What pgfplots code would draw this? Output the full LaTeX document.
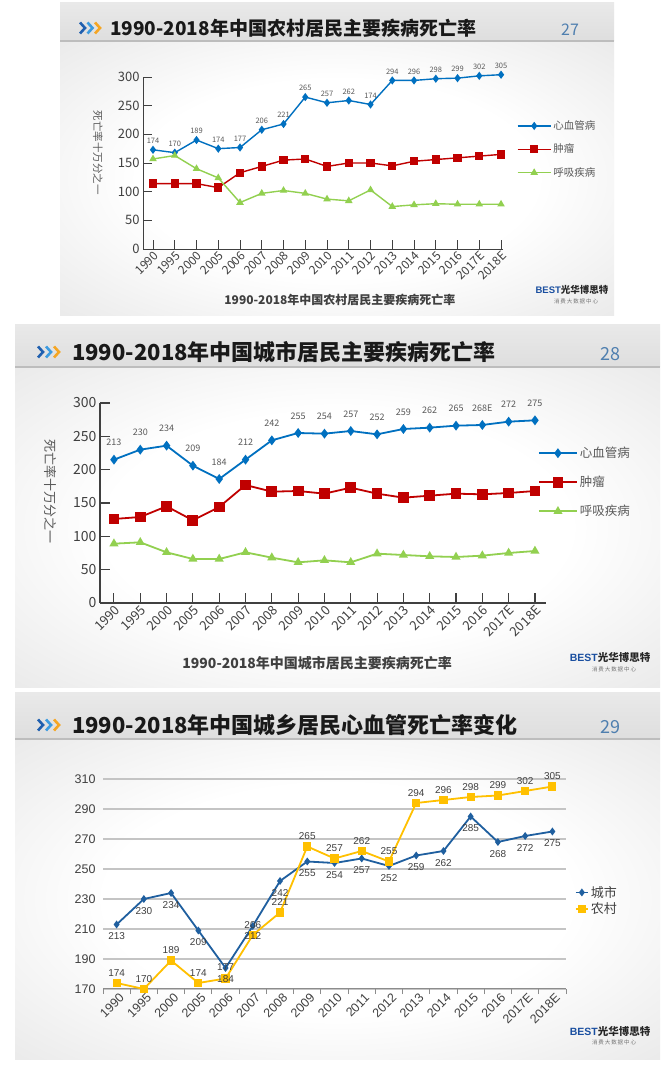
\documentclass[border=0pt]{standalone}
\usepackage{pgfplots}
\pgfplotsset{compat=1.18}
\usepackage{fontspec}
\setmainfont{Noto Sans CJK SC}
\newfontfamily\arial{Liberation Sans}
\definecolor{cvd}{HTML}{0070C0}
\definecolor{tum}{HTML}{C00000}
\definecolor{resp}{HTML}{92D050}
\definecolor{urb}{HTML}{1F5F9F}
\definecolor{rur}{HTML}{FFC000}
\definecolor{txt}{HTML}{404040}
\definecolor{lbl}{HTML}{595959}
\definecolor{pgnum}{HTML}{4F7FAF}
\definecolor{chevA}{HTML}{1F5FAF}
\definecolor{chevB}{HTML}{3C9BE0}
\definecolor{chevC}{HTML}{F5A623}
\definecolor{bgout}{HTML}{D9D9D9}
\definecolor{barTop}{HTML}{E9E9E9}
\definecolor{barBot}{HTML}{DEDEDE}
\definecolor{barline}{HTML}{BDBDBD}
\definecolor{logob}{HTML}{1A4FA0}
\definecolor{gridc}{HTML}{C4C4C4}
\pgfdeclareradialshading{slidebg}{\pgfpoint{0bp}{0bp}}{color(0bp)=(white); color(18bp)=(white); color(50bp)=(bgout); color(100bp)=(bgout)}
\newcommand{\fs}[1]{\fontsize{#1}{#1}\selectfont}
\newcommand{\chev}[3]{%
  \foreach \i/\c in {0/chevA,1/chevB,2/chevC}{%
    \draw[\c, line width=2.6pt, line cap=butt, line join=miter] ({#1pt+\i*#3pt},{#2pt+5.5pt}) -- ({#1pt+\i*#3pt+5pt},{#2pt}) -- ({#1pt+\i*#3pt},{#2pt-5.5pt});
  }}
\newcommand{\slide}[5]{%
  \fill[bgout] (#1pt,#2pt) rectangle (#3pt,#4pt);
  \shade[shading=slidebg] (#1pt,#2pt) rectangle (#3pt,#5pt);
  \shade[top color=barTop, bottom color=barBot] (#1pt,#5pt) rectangle (#3pt,#4pt);
  \draw[barline, line width=1.2pt] (#1pt,#5pt) -- (#3pt,#5pt);
}
\newcommand{\logo}[3]{%
  \node[inner sep=0pt] at (#1pt,#2pt) {{\arial\bfseries\color{logob}\fs{#3}BEST}{\bfseries\color{black!85}\fs{#3}光华博思特}};
  \node[inner sep=0pt, text=black!55] at (#1pt+4pt,#2pt-11pt) {\fs{5.5}消\,费\,大\,数\,据\,中\,心};
}
\begin{document}
\begin{tikzpicture}
\path[use as bounding box, fill=white] (0,0) rectangle (670pt,1065pt);
% ---------- slide 1 ----------
\slide{60}{749}{614}{1062}{1024}
\chev{80}{1037}{7.5}
\node[anchor=west, inner sep=0pt, text=black!90] at (110pt,1037pt) {\bfseries\fs{19}1990-2018年中国农村居民主要疾病死亡率};
\node[text=pgnum] at (570pt,1035pt) {\fs{16}27};
\logo{572}{775}{9.5}
% ---------- slide 2 ----------
\slide{15}{377}{660}{740}{698}
\chev{38}{713}{8}
\node[anchor=west, inner sep=0pt, text=black!90] at (72pt,713pt) {\bfseries\fs{22}1990-2018年中国城市居民主要疾病死亡率};
\node[text=pgnum] at (610pt,711pt) {\fs{18}28};
\logo{610}{407}{10.5}
% ---------- slide 3 ----------
\slide{15}{5}{660}{372}{326}
\chev{38}{340}{8}
\node[anchor=west, inner sep=0pt, text=black!90] at (72pt,340pt) {\bfseries\fs{22}1990-2018年中国城乡居民心血管死亡率变化};
\node[text=pgnum] at (610pt,338pt) {\fs{18}29};
\logo{610}{34}{10.5}

% ================= AXIS 1 =================
\begin{axis}[
  at={(143pt,816pt)}, anchor=south west,
  width=360pt, height=172pt, scale only axis,
  xmin=-0.46, xmax=16.09, ymin=0, ymax=300,
  axis lines=left,
  axis line style={-, draw=txt, line width=0.9pt},
  tick align=inside, major tick length=9pt,
  tick style={draw=txt, line width=0.9pt},
  xtick={0,...,16},
  xticklabels={1990,1995,2000,2005,2006,2007,2008,2009,2010,2011,2012,2013,2014,2015,2016,2017E,2018E},
  ytick={0,50,...,300},
  /pgf/number format/assume math mode=true,
  x tick label style={rotate=45, anchor=north east, font=\fs{12}, text=txt, inner sep=1pt},
  y tick label style={font=\fs{13}, text=txt},
  ylabel={死亡率十万分之一},
  ylabel style={at={(axis description cs:-0.125,0.56)}, rotate=180, anchor=center, font=\fs{10.5}, text=lbl},
  xlabel={1990-2018年中国农村居民主要疾病死亡率},
  xlabel style={at={(axis description cs:0.547,-0.297)}, anchor=center, font=\bfseries\fs{12}, text=txt},
  clip=false,
  legend style={at={(axis description cs:1.03,0.77)}, anchor=north west, draw=none, fill=none, font=\fs{10.5}, text=lbl, row sep=9pt, /tikz/every even column/.append style={column sep=9pt}},
  legend cell align=left,
  legend image code/.code={\draw[mark repeat=2,mark phase=2] plot coordinates {(0pt,0pt) (16.5pt,0pt) (33pt,0pt)};},
]
\addplot[color=cvd, line width=1.4pt, mark=diamond*, mark size=3pt, mark options={solid, fill=cvd},
  nodes near coords, point meta=explicit symbolic,
  every node near coord/.append style={anchor=center, yshift=9pt, font=\fs{7.5}, text=lbl}]
coordinates {(0,173)[174] (1,168)[170] (2,190)[189] (3,175)[174] (4,177)[177] (5,208)[206] (6,218)[221] (7,265)[265] (8,255)[257] (9,259)[262] (10,252)[174] (11,294)[294] (12,294)[296] (13,297)[298] (14,298)[299] (15,302)[302] (16,304)[305]};
\addlegendentry{心血管病}
\addplot[color=tum, line width=1.4pt, mark=square*, mark size=3.5pt, mark options={solid, fill=tum}]
coordinates {(0,114) (1,114) (2,114) (3,107) (4,133) (5,144) (6,155) (7,157) (8,144) (9,150) (10,150) (11,145) (12,153) (13,156) (14,159) (15,162) (16,165)};
\addlegendentry{肿瘤}
\addplot[color=resp, line width=1.4pt, mark=triangle*, mark size=3pt, mark options={solid, fill=resp}]
coordinates {(0,157) (1,163) (2,140) (3,124) (4,81) (5,97) (6,102) (7,97) (8,87) (9,84) (10,103) (11,74) (12,77) (13,79) (14,78) (15,78) (16,78)};
\addlegendentry{呼吸疾病}
\end{axis}

% ================= AXIS 2 =================
\begin{axis}[
  at={(100pt,462pt)}, anchor=south west,
  width=446pt, height=200pt, scale only axis,
  xmin=-0.53, xmax=16.42, ymin=0, ymax=300,
  axis lines=left,
  axis line style={-, draw=txt, line width=1.1pt},
  tick align=inside, major tick length=10pt,
  tick style={draw=txt, line width=1.1pt},
  xtick={0,...,16},
  xticklabels={1990,1995,2000,2005,2006,2007,2008,2009,2010,2011,2012,2013,2014,2015,2016,2017E,2018E},
  ytick={0,50,...,300},
  /pgf/number format/assume math mode=true,
  x tick label style={rotate=45, anchor=north east, font=\fs{13}, text=txt, inner sep=1pt},
  y tick label style={font=\fs{14}, text=txt},
  ylabel={死亡率十万分之一},
  ylabel style={at={(axis description cs:-0.112,0.555)}, rotate=180, anchor=center, font=\fs{13}, text=lbl},
  xlabel={1990-2018年中国城市居民主要疾病死亡率},
  xlabel style={at={(axis description cs:0.487,-0.3)}, anchor=center, font=\bfseries\fs{14}, text=txt},
  clip=false,
  legend style={at={(axis description cs:0.975,0.8)}, anchor=north west, draw=none, fill=none, font=\fs{12.5}, text=lbl, row sep=13pt, /tikz/every even column/.append style={column sep=12pt}},
  legend cell align=left,
  legend image code/.code={\draw[mark repeat=2,mark phase=2] plot coordinates {(0pt,0pt) (19pt,0pt) (38pt,0pt)};},
]
\addplot[color=cvd, line width=1.8pt, mark=diamond*, mark size=3.5pt, mark options={solid, fill=cvd},
  nodes near coords, point meta=explicit symbolic,
  every node near coord/.append style={anchor=center, yshift=17pt, font=\fs{9}, text=lbl}]
coordinates {(0,215)[213] (1,230)[230] (2,236)[234] (3,206)[209] (4,186)[184] (5,215)[212] (6,244)[242] (7,255)[255] (8,254)[254] (9,258)[257] (10,253)[252] (11,261)[259] (12,263)[262] (13,266)[265] (14,267)[268E] (15,272)[272] (16,274)[275]};
\addlegendentry{心血管病}
\addplot[color=tum, line width=1.8pt, mark=square*, mark size=4.5pt, mark options={solid, fill=tum}]
coordinates {(0,126) (1,129) (2,145) (3,124) (4,144) (5,177) (6,167) (7,168) (8,164) (9,173) (10,164) (11,158) (12,161) (13,164) (14,163) (15,165) (16,168)};
\addlegendentry{肿瘤}
\addplot[color=resp, line width=1.8pt, mark=triangle*, mark size=3.5pt, mark options={solid, fill=resp}]
coordinates {(0,89) (1,91) (2,76) (3,66) (4,66) (5,76) (6,68) (7,61) (8,64) (9,61) (10,74) (11,72) (12,70) (13,69) (14,71) (15,75) (16,78)};
\addlegendentry{呼吸疾病}
\end{axis}

% ================= AXIS 3 =================
\begin{axis}[
  at={(103pt,76pt)}, anchor=south west,
  width=463pt, height=210pt, scale only axis,
  xmin=-0.5, xmax=16.5, ymin=170, ymax=310,
  axis x line=bottom, axis y line=left,
  x axis line style={-, draw=black!45, line width=1pt},
  y axis line style={draw=none},
  tick align=outside, major tick length=0pt, minor tick length=5pt,
  minor xtick={-0.5,0.5,...,16.5},
  minor tick style={draw=black!45, line width=0.9pt},
  xtick={0,...,16},
  xticklabels={1990,1995,2000,2005,2006,2007,2008,2009,2010,2011,2012,2013,2014,2015,2016,2017E,2018E},
  ytick={170,190,...,310},
  ymajorgrids, grid style={draw=gridc, line width=1.3pt},
  /pgf/number format/assume math mode=true,
  x tick label style={rotate=45, anchor=north east, font=\arial\fs{12.5}, text=txt, inner sep=1pt, yshift=-3pt},
  y tick label style={font=\arial\fs{12.5}, text=txt, xshift=-4pt},
  clip=false,
  legend style={at={(axis description cs:1.019,0.5)}, anchor=north west, draw=none, fill=none, font=\fs{13}, text=txt, row sep=0pt, inner sep=0pt, /tikz/every even column/.append style={column sep=1pt}},
  legend cell align=left,
  legend image code/.code={\draw[mark repeat=2,mark phase=2] plot coordinates {(0pt,0pt) (6pt,0pt) (12pt,0pt)};},
]
\addplot[color=urb, line width=1.8pt, mark=diamond*, mark size=2.5pt, mark options={solid, fill=urb}]
coordinates {(0,213) (1,230) (2,234) (3,209) (4,184) (5,212) (6,242) (7,255) (8,254) (9,257) (10,252) (11,259) (12,262) (13,285) (14,268) (15,272) (16,275)};
\addlegendentry{城市}
\addplot[color=rur, line width=1.8pt, mark=square*, mark size=3.2pt, mark options={solid, fill=rur}]
coordinates {(0,174) (1,170) (2,189) (3,174) (4,177) (5,206) (6,221) (7,265) (8,257) (9,262) (10,255) (11,294) (12,296) (13,298) (14,299) (15,302) (16,305)};
\addlegendentry{农村}
% labels
\addplot[draw=none, mark=none, forget plot, nodes near coords, point meta=explicit symbolic,
  every node near coord/.append style={anchor=center, yshift=-12pt, font=\arial\fs{10}, text=txt}]
coordinates {(0,213)[213] (1,230)[230] (2,234)[234] (3,209)[209] (6,242)[242] (7,255)[255] (8,254)[254] (9,257)[257] (10,252)[252] (11,259)[259] (12,262)[262] (13,285)[285] (14,268)[268] (15,272)[272] (16,275)[275]};
\addplot[draw=none, mark=none, forget plot, nodes near coords, point meta=explicit symbolic,
  every node near coord/.append style={anchor=center, yshift=1pt, font=\arial\fs{10}, text=txt}]
coordinates {(4,184)[177] (5,212)[206]};
\addplot[draw=none, mark=none, forget plot, nodes near coords, point meta=explicit symbolic,
  every node near coord/.append style={anchor=center, yshift=10pt, font=\arial\fs{10}, text=txt}]
coordinates {(0,174)[174] (1,170)[170] (2,189)[189] (3,174)[174] (6,221)[221] (7,265)[265] (8,257)[257] (9,262)[262] (10,255)[255] (11,294)[294] (12,296)[296] (13,298)[298] (14,299)[299] (15,302)[302] (16,305)[305]};
\addplot[draw=none, mark=none, forget plot, nodes near coords, point meta=explicit symbolic,
  every node near coord/.append style={anchor=center, yshift=-1pt, font=\arial\fs{10}, text=txt}]
coordinates {(4,177)[184] (5,206)[212]};
\end{axis}
\end{tikzpicture}
\end{document}
